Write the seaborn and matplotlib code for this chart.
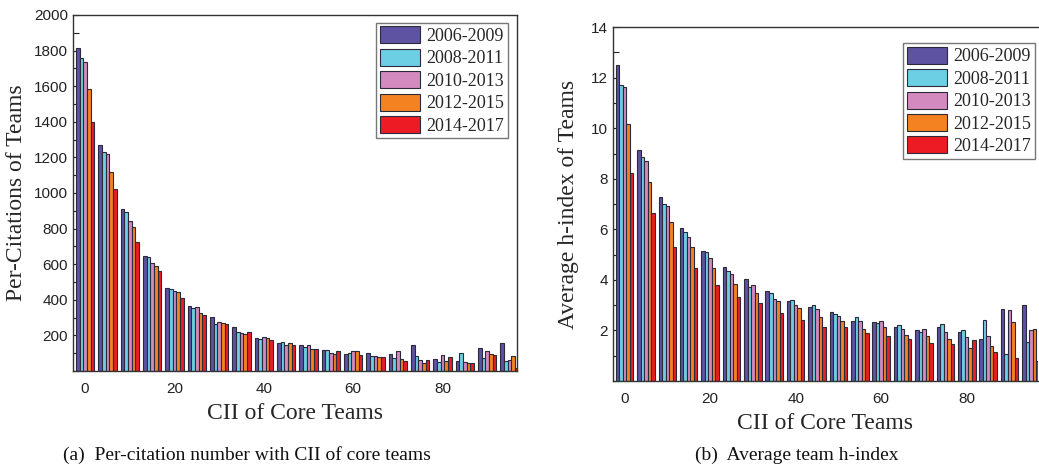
import pandas as pd
import matplotlib.pyplot as plt
from matplotlib.ticker import MultipleLocator
import seaborn as sns

# CII group positions (one group of 5 bars every 5 CII units)
cii_groups = [str(v) for v in range(0, 100, 5)]

periods = ["2006-2009", "2008-2011", "2010-2013", "2012-2015", "2014-2017"]
colors = ["#5E52A2", "#6DCFE4", "#D38ABE", "#F58220", "#ED1C24"]

# (a) per-citation number
cit_2006 = [1813, 1270, 909, 646, 466, 365, 302, 249, 184, 159,
            146, 118, 96, 103, 96, 146, 66, 56, 127, 155]
cit_2008 = [1757, 1231, 892, 639, 459, 354, 264, 217, 178, 163,
            135, 116, 99, 84, 71, 84, 52, 99, 71, 56]
cit_2010 = [1735, 1218, 843, 605, 448, 361, 274, 214, 191, 144,
            144, 101, 110, 84, 114, 62, 90, 52, 112, 62]
cit_2012 = [1583, 1120, 808, 588, 442, 328, 268, 208, 187, 157,
            122, 95, 112, 77, 66, 43, 56, 43, 96, 84]
cit_2014 = [1398, 1023, 725, 564, 409, 315, 264, 219, 172, 144,
            122, 110, 90, 77, 56, 62, 77, 43, 90, 19]

# (b) average team h-index
h_2006 = [12.52, 9.15, 7.29, 6.04, 5.14, 4.50, 4.03, 3.57, 3.15, 2.92,
          2.72, 2.39, 2.35, 2.14, 2.03, 2.14, 1.93, 1.66, 2.84, 3.02]
h_2008 = [11.71, 8.87, 7.00, 5.88, 5.10, 4.34, 3.73, 3.48, 3.20, 2.99,
          2.64, 2.54, 2.31, 2.20, 1.93, 2.24, 2.03, 2.42, 1.08, 1.54]
h_2010 = [11.63, 8.72, 6.91, 5.68, 4.88, 4.22, 3.80, 3.23, 3.02, 2.83,
          2.58, 2.38, 2.38, 2.06, 2.06, 1.95, 1.73, 1.77, 2.80, 2.03]
h_2012 = [10.16, 7.86, 6.30, 5.29, 4.46, 3.85, 3.49, 3.18, 2.88, 2.52,
          2.38, 2.07, 2.14, 1.83, 1.79, 1.65, 1.30, 1.37, 2.35, 2.06]
h_2014 = [8.22, 6.64, 5.29, 4.48, 3.80, 3.33, 3.07, 2.68, 2.43, 2.14,
          2.15, 1.89, 1.77, 1.65, 1.49, 1.47, 1.64, 1.15, 0.89, 0.78]


def long_frame(series):
    rows = []
    for period, vals in zip(periods, series):
        for g, v in zip(cii_groups, vals):
            rows.append({"cii": g, "period": period, "value": v})
    return pd.DataFrame(rows)


cit_df = long_frame([cit_2006, cit_2008, cit_2010, cit_2012, cit_2014])
h_df = long_frame([h_2006, h_2008, h_2010, h_2012, h_2014])

sns.set_style("ticks")
plt.rcParams["font.family"] = ["Liberation Sans", "DejaVu Sans"]

fig = plt.figure(figsize=(10.39, 4.68), dpi=100)
ax1 = fig.add_axes([0.0703, 0.2073, 0.4273, 0.7607])
ax2 = fig.add_axes([0.590, 0.186, 0.409, 0.756])

serif = ["Liberation Serif", "DejaVu Serif"]

for ax, df in [(ax1, cit_df), (ax2, h_df)]:
    sns.barplot(
        data=df, x="cii", y="value", hue="period",
        order=cii_groups, hue_order=periods, palette=colors,
        width=0.82, edgecolor="#2a2a3a", linewidth=0.8,
        saturation=1, ax=ax
    )
    ax.set_xlim(-0.54, 19.33)
    ax.set_xticks([0, 4, 8, 12, 16])
    ax.set_xticklabels(["0", "20", "40", "60", "80"])
    ax.tick_params(axis="x", length=0, labelsize=11, pad=8, colors="#222222")
    ax.tick_params(axis="y", which="both", direction="in", length=4,
                   labelsize=11, colors="#222222", width=0.8)
    ax.set_xlabel("CII of Core Teams", family=serif, fontsize=17, labelpad=5)
    for s in ax.spines.values():
        s.set_color("#333333")
        s.set_linewidth(1.0)

ax1.set_ylim(0, 2000)
ax1.set_yticks(range(200, 2001, 200))
ax1.yaxis.set_minor_locator(MultipleLocator(100))
ax1.set_ylabel("Per-Citations of Teams", family=serif, fontsize=17, labelpad=5)

ax2.set_ylim(0, 14)
ax2.set_yticks(range(2, 15, 2))
ax2.yaxis.set_minor_locator(MultipleLocator(1))
ax2.set_ylabel("Average h-index of Teams", family=serif, fontsize=17, labelpad=9)
ax2.spines["right"].set_visible(False)

for ax, anchor in [(ax1, (0.98, 0.978)), (ax2, (0.993, 0.955))]:
    leg = ax.legend(loc="upper right", bbox_to_anchor=anchor, borderaxespad=0,
                    prop={"family": serif, "size": 13}, fancybox=False,
                    handlelength=2.25, handleheight=1.07, labelspacing=0.21,
                    handletextpad=0.35, borderpad=0.2, framealpha=1)
    leg.get_frame().set_edgecolor("#777777")
    leg.get_frame().set_linewidth(1.0)

fig.text(247 / 1039, 1 - 455 / 468, "(a)  Per-citation number with CII of core teams",
         family=serif, fontsize=14, ha="center", va="center", color="#111111")
fig.text(797 / 1039, 1 - 455 / 468, "(b)  Average team h-index",
         family=serif, fontsize=14, ha="center", va="center", color="#111111")

fig.savefig("out.png", dpi=100)
